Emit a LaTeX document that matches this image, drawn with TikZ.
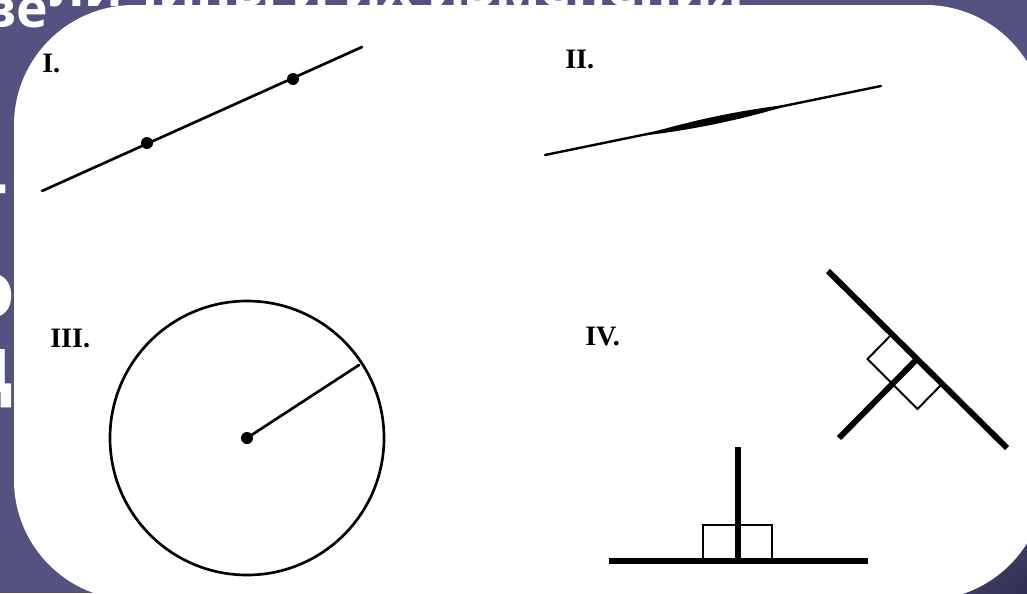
\documentclass[tikz,border=0pt]{standalone}
\usepackage{fontspec}
\setmainfont{Liberation Serif}
\newfontfamily\slidefont{Open Sans}
\definecolor{slidebg}{RGB}{84,82,128}
\definecolor{slidedark}{RGB}{50,48,82}
\tikzset{
  figline/.style={line width=1.9pt, line cap=round},
  boldline/.style={line width=4.2pt},
  thinbox/.style={line width=1.4pt},
  figlabel/.style={anchor=base west, inner sep=0pt, font=\fontsize{20}{24}\selectfont\bfseries},
  slidetext/.style={text=white, inner sep=0pt, font=\slidefont\fontsize{56}{60}\selectfont\bfseries},
  slidetitle/.style={text=white, inner sep=0pt, font=\slidefont\fontsize{38}{42}\selectfont\bfseries}
}
\begin{document}
\begin{tikzpicture}[x=0.025cm, y=-0.025cm]
        \useasboundingbox (0,0) rectangle (1027,593);
        \fill[slidebg] (0,0) rectangle (1027,593);
        \shade[inner color=slidedark, outer color=slidebg] (1027,593) circle (170);
        \begin{scope}[even odd rule, rounded corners=3cm]
            \clip (-300,-300) rectangle (1300,900) (14,5) rectangle (1045,600);
            \node[slidetitle, anchor=base west] (ttlA) at (-18,27) {ве};
            \node[slidetitle, anchor=base west] (ttlB) at (50,6) {личины и их изменения};
            \node[slidetext, anchor=base east] (frA) at (9,210) {–};
            \node[slidetext, anchor=base] (frB) at (-9,317) {о};
            \node[slidetext, anchor=base] (frC) at (-13,392) {д};
        \end{scope}
        \fill[white, rounded corners=3cm] (14,5) rectangle (1045,600);

        \node[figlabel] (labI) at (42,72) {I.};
        \draw[figline] (42,191) -- (362,47);
        \foreach \px/\py in {147/143,293/79} {
            \fill (\px,\py) circle (6);
        }

        \node[figlabel] (labII) at (565,68) {II.};
        \draw[figline, line width=1.7pt] (545,155) -- (881,86);
        \fill (640,136) .. controls (692,130.1) and (743,119.5) .. (793,104) .. controls (741,109.9) and (690,120.5) .. cycle;

        \node[figlabel] (labIII) at (50,347) {III.};
        \coordinate (cen) at (247,438);
        \draw[figline] (cen) circle (137);
        \draw[figline] (cen) -- (359,365);
        \fill (cen) circle (6);

        \node[figlabel] (labIV) at (585,345) {IV.};
        \draw[boldline] (609,561) -- (868,561);
        \draw[boldline] (738,447) -- (738,561);
        \draw[thinbox] (703,561) rectangle (772,525);
        \coordinate (ft) at (917,359);
        \draw[boldline] (828,271) -- (1007,448);
        \draw[boldline] (839,438) -- (ft);
        \draw[thinbox] (ft) -- (892,334) -- (867.5,359) -- (892.5,384) -- (917.5,409) -- (942,384);
    \end{tikzpicture}
\end{document}
